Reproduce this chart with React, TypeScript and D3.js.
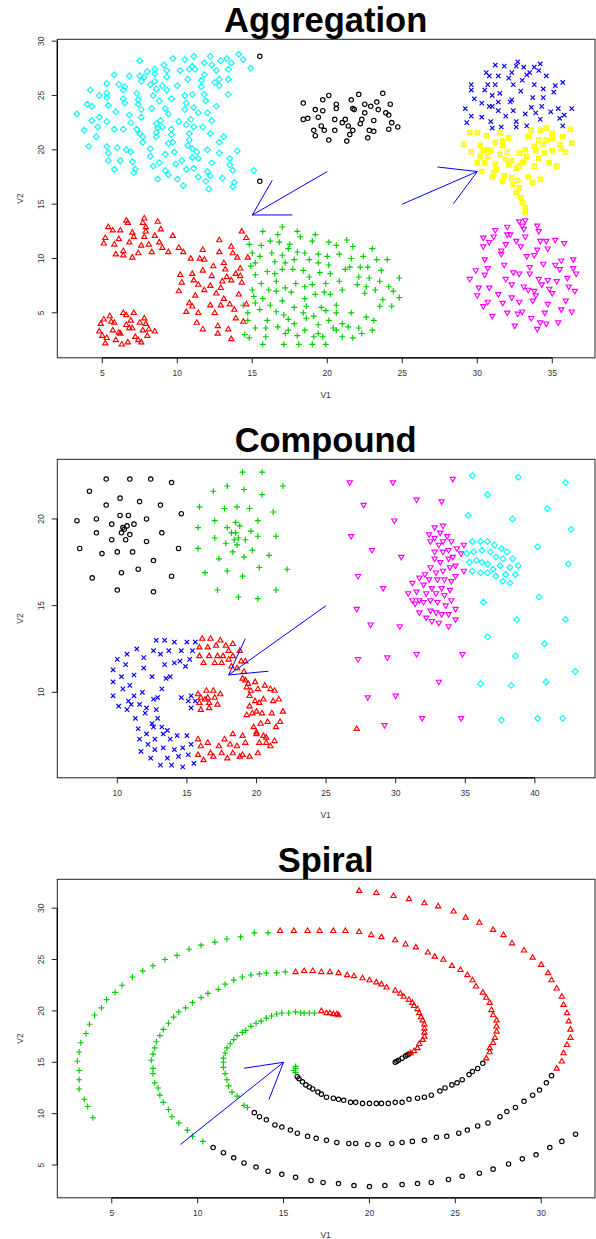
import React from 'react';
import * as d3 from 'd3';

type Pt = [number, number];

// ---------- Aggregation ----------
const aggCyan: Pt[] = [
  [3.3,23.3],[3.8,21.8],[4.0,24.2],[4.2,25.5],[4.3,24.0],[4.3,22.7],[4.1,20.3],[4.6,21.2],[4.7,22.1],[4.8,25.0],
  [4.8,23.0],[5.3,26.1],[5.3,25.2],[5.3,24.8],[5.4,24.1],[5.3,22.6],[5.3,20.3],[5.4,19.7],[5.4,19.0],[5.8,26.9],
  [5.9,23.5],[5.8,21.9],[5.8,18.2],[6.0,20.2],[6.1,26.0],[6.2,19.0],[6.4,25.5],[6.4,21.9],[6.4,24.7],[6.5,25.8],
  [6.5,24.3],[6.6,20.0],[6.8,26.8],[6.8,23.2],[6.9,22.5],[6.9,19.8],[7.0,18.9],[7.1,17.9],[7.2,18.2],[7.3,25.2],
  [7.4,24.6],[7.4,24.2],[7.3,21.9],[7.5,21.5],[7.5,26.8],[7.5,28.2],[7.6,26.3],[7.6,23.7],[7.6,23.0],[7.7,21.2],
  [7.7,20.7],[7.8,26.7],[8.0,27.2],[8.2,26.0],[8.2,20.1],[8.2,19.4],[8.3,23.8],[8.4,18.5],[8.4,25.0],[8.5,27.0],
  [8.5,27.4],[8.5,26.3],[8.6,25.6],[8.6,22.4],[8.6,21.6],[8.6,21.2],[8.7,22.0],[8.7,17.3],[8.8,18.8],[8.8,24.5],
  [8.9,22.7],[9.0,22.1],[9.0,25.9],[9.1,27.8],[9.2,23.8],[9.2,19.6],[9.2,18.1],[9.3,27.3],[9.3,26.7],[9.4,17.7],
  [9.3,25.5],[9.4,20.6],[9.4,23.3],[9.6,21.4],[9.6,21.9],[9.6,24.7],[9.7,28.4],[9.7,20.7],[9.8,19.8],[9.9,18.7],
  [10.0,25.9],[10.0,17.3],[10.1,22.6],[10.2,27.3],[10.3,19.0],[10.4,16.7],[10.5,28.3],[10.5,25.0],[10.6,24.3],[10.5,23.7],
  [10.6,22.3],[10.6,18.2],[10.7,20.4],[10.7,26.5],[10.8,27.4],[10.8,20.9],[10.8,21.5],[10.9,22.8],[11.0,19.3],[11.0,20.1],
  [11.0,27.7],[11.0,25.1],[11.1,23.9],[11.1,28.6],[11.1,22.1],[11.1,18.3],[11.2,27.4],[11.3,19.8],[11.4,23.4],[11.4,19.2],
  [11.4,17.5],[11.6,25.8],[11.6,26.4],[11.7,22.1],[11.8,25.1],[11.8,28.0],[11.8,26.9],[11.9,24.5],[11.9,17.1],[12.0,20.0],
  [12.0,23.4],[12.0,18.0],[12.1,16.4],[12.2,28.6],[12.2,17.6],[12.3,27.8],[12.2,21.5],[12.3,22.7],[12.3,18.8],[12.5,26.2],
  [12.6,24.0],[12.6,27.3],[12.8,19.7],[12.8,20.7],[12.8,26.5],[12.8,25.9],[12.9,28.2],[13.0,17.4],[13.1,21.2],[13.3,28.4],
  [13.4,25.1],[13.4,27.4],[13.4,26.5],[13.5,18.6],[13.5,19.2],[13.6,28.0],[13.7,16.6],[13.7,18.1],[13.8,17.0],[14.0,19.9],
  [14.1,28.8],[14.4,28.3],[14.9,27.5],[15.1,18.1],
];

const aggBlack: Pt[] = [
  [15.5,28.6],[15.5,17.1],[18.4,24.3],[18.4,22.8],[18.7,22.9],[19.2,23.7],[19.1,21.8],[19.2,21.3],[19.4,23.0],[19.6,22.2],
  [19.7,24.6],[19.7,23.6],[19.8,21.8],[20.1,25.0],[20.1,20.9],[20.5,22.8],[20.5,21.8],[20.6,24.2],[20.6,23.8],[21.0,22.5],
  [21.2,22.8],[21.3,20.8],[21.4,22.2],[21.5,21.4],[21.6,24.6],[21.7,21.8],[21.7,23.8],[21.8,23.7],[22.2,22.4],[22.1,25.1],
  [22.3,22.8],[22.5,24.2],[22.5,23.4],[22.7,21.1],[22.9,24.0],[22.8,21.8],[23.1,21.7],[23.1,22.7],[23.3,24.4],[23.4,23.7],
  [23.7,25.2],[23.9,23.4],[24.1,23.2],[24.2,24.2],[24.1,21.9],[24.3,22.5],[24.7,22.1],
];

const aggBlue: Pt[] = [
  [29.2,23.8],[29.3,22.5],[29.6,25.5],[29.6,26.0],[29.6,23.1],[29.8,24.7],[30.3,23.0],[30.3,24.3],[30.5,25.5],[30.6,27.1],
  [30.8,26.8],[30.7,26.0],[30.8,24.0],[30.9,22.6],[31.0,22.0],[31.0,25.0],[31.0,24.0],[31.2,27.8],[31.2,26.0],[31.4,26.8],
  [31.4,24.4],[31.4,23.6],[31.5,25.2],[31.6,22.1],[31.8,27.7],[31.9,23.1],[32.1,26.6],[32.2,24.4],[32.3,24.6],[32.3,27.1],
  [32.4,26.0],[32.4,23.6],[32.6,22.6],[32.6,22.1],[32.7,28.1],[32.9,25.4],[33.0,26.4],[33.1,27.6],[33.2,23.3],[33.3,22.2],
  [33.5,27.1],[33.6,23.9],[33.7,24.8],[33.8,26.0],[33.9,23.4],[34.1,27.3],[34.2,22.8],[34.2,27.9],[34.3,24.0],[34.4,24.8],
  [34.4,25.6],[34.6,26.8],[34.9,23.5],[35.1,25.3],[35.2,25.9],[35.4,23.8],[35.5,22.9],[35.7,26.2],[35.7,22.2],[35.8,23.2],
  [36.3,23.8],[33.8,27.6],[33.3,26.9],[32.6,27.7],
];

const aggYellow: Pt[] = [
  [29.1,20.5],[29.5,21.6],[29.6,19.8],[30.0,21.6],[30.0,18.8],[30.2,19.4],[30.2,20.4],[30.3,18.0],[30.4,19.9],[30.5,18.8],
  [30.6,21.3],[30.7,20.0],[30.9,19.9],[31.0,17.5],[31.1,17.9],[31.2,18.7],[31.2,20.7],[31.5,21.6],[31.5,19.6],[31.7,20.4],
  [31.7,20.8],[31.8,17.6],[31.7,17.1],[31.9,19.1],[32.0,19.8],[32.1,21.1],[32.1,18.6],[32.3,17.4],[32.3,19.0],[32.4,16.8],
  [32.6,18.3],[32.7,17.2],[32.8,19.7],[32.8,18.5],[33.0,18.8],[33.1,18.9],[33.2,20.0],[33.4,17.5],[33.4,21.2],[33.6,21.8],
  [33.7,17.0],[33.8,20.3],[33.8,18.5],[33.9,19.9],[34.1,20.9],[34.1,19.2],[34.2,17.3],[34.2,21.8],[34.4,20.5],[34.5,19.7],
  [34.6,22.0],[34.8,18.8],[35.0,21.5],[35.0,21.0],[35.0,19.9],[35.3,18.5],[35.5,20.5],[35.6,20.1],[35.7,21.2],[35.9,19.8],
  [36.2,21.9],[36.3,20.6],[32.6,16.1],[32.8,16.5],[32.9,15.6],[33.0,15.2],[33.2,14.7],[33.2,14.2],[31.3,18.2],[33.3,19.4],
  [34.6,20.9],[30.7,19.4],
];

const aggMagenta: Pt[] = [
  [29.5,8.1],[29.9,8.9],[30.0,6.6],[30.1,7.3],[30.4,11.9],[30.4,5.6],[30.4,11.1],[30.5,9.9],[30.5,8.5],[30.7,9.1],
  [30.7,6.0],[30.8,7.3],[30.8,11.5],[31.0,4.7],[31.1,12.0],[31.2,12.6],[31.4,6.7],[31.6,10.4],[31.6,10.7],[31.7,5.9],
  [31.8,9.4],[31.9,11.3],[31.9,8.1],[32.0,12.9],[32.0,5.0],[32.0,12.2],[32.2,12.2],[32.3,7.6],[32.3,6.4],[32.4,8.7],
  [32.5,3.8],[32.6,11.6],[32.7,4.9],[32.8,6.0],[32.8,8.6],[32.9,11.1],[33.0,5.1],[33.0,13.0],[33.1,7.4],[33.1,12.7],
  [33.2,12.0],[33.3,10.2],[33.4,7.1],[33.5,9.2],[33.5,8.6],[33.6,4.5],[33.7,6.1],[33.8,10.3],[33.8,7.0],[33.9,6.6],
  [34.0,10.8],[34.0,3.5],[34.0,13.0],[34.1,12.5],[34.1,8.1],[34.2,11.6],[34.2,4.1],[34.3,7.6],[34.4,9.5],[34.5,5.0],
  [34.6,4.0],[34.6,11.6],[34.7,10.9],[34.7,8.0],[34.7,5.8],[34.8,7.2],[35.0,6.8],[35.2,11.7],[35.2,9.4],[35.3,7.9],
  [35.4,4.1],[35.5,9.0],[35.6,5.3],[35.6,9.8],[35.8,11.4],[35.9,6.1],[36.0,8.2],[36.1,7.4],[36.3,5.1],[36.4,9.9],
  [36.4,9.1],[36.5,7.0],[36.6,8.6],[32.8,13.4],[33.2,13.5],
];

const aggRed: Pt[] = [
  // upper left group
  [5.1,11.4],[5.2,11.9],[5.4,12.9],[5.7,12.6],[5.8,11.3],[5.9,10.4],[6.1,11.8],[6.2,12.6],[6.4,10.7],[6.4,10.3],
  [6.6,13.5],[6.7,13.3],[6.8,11.5],[7.0,12.4],[7.1,12.0],[7.0,10.1],[7.4,10.5],[7.6,11.2],[7.8,13.7],[7.7,13.3],
  [7.9,12.5],[7.8,12.0],[7.9,12.9],[8.1,11.3],[8.3,10.6],[8.5,12.1],[8.7,13.4],[8.8,11.5],[8.9,12.7],[9.0,11.0],
  [9.4,10.6],[9.7,12.1],
  // lower left group
  [4.8,3.3],[4.9,4.0],[5.0,2.9],[5.1,4.4],[5.2,2.2],[5.3,2.7],[5.5,4.7],[5.6,4.2],[5.7,3.4],[5.8,4.1],
  [5.9,2.5],[6.1,3.2],[6.2,3.1],[6.3,2.1],[6.4,5.0],[6.6,4.8],[6.6,3.9],[6.7,2.3],[6.8,3.6],[6.9,4.3],
  [7.0,3.6],[7.1,5.0],[7.2,2.8],[7.4,2.5],[7.5,4.1],[7.6,2.3],[7.7,3.4],[7.8,4.5],[7.9,4.0],[8.0,2.9],
  [8.1,3.5],[8.5,3.3],
  // middle group
  [10.1,7.0],[10.2,8.5],[10.3,7.8],[10.6,5.1],[10.8,5.9],[11.0,5.6],[11.0,8.6],[11.1,8.0],[11.2,6.6],[11.3,4.1],
  [11.4,5.0],[11.4,7.6],[11.5,10.0],[11.7,10.8],[11.7,3.5],[11.7,8.9],[11.8,9.9],[11.8,7.1],[12.2,7.5],[12.2,5.7],
  [12.3,8.4],[12.4,9.3],[12.5,5.0],[12.6,6.8],[12.7,3.8],[12.7,3.1],[12.8,10.6],[12.8,11.7],[12.9,5.7],[12.9,7.3],
  [13.0,7.9],[13.1,6.3],[13.1,9.6],[13.2,9.0],[13.3,8.3],[13.4,3.5],[13.5,5.8],[13.6,11.1],[13.6,2.6],[13.6,8.0],
  [13.7,10.5],[13.8,5.3],[13.9,8.6],[14.0,10.1],[14.1,6.7],[14.2,9.1],[14.2,8.4],[14.3,7.8],[14.3,12.5],[14.4,4.2],
  [14.6,5.8],[14.6,11.9],[14.7,10.1],[13.9,4.5],[10.1,11.0],[10.4,10.6],[10.9,10.0],
];

const aggGreen: Pt[] = [
  [17.0,12.9],[15.7,12.5],[16.7,12.2],[18.0,12.5],[19.2,12.2],[18.2,12.0],[14.8,11.3],[16.2,11.6],[16.8,11.5],[17.5,11.3],
  [19.0,11.6],[20.1,11.5],[20.6,11.2],[15.6,11.2],[15.0,10.5],[15.5,10.2],[16.3,10.5],[17.0,10.3],[17.4,10.9],[18.0,10.6],
  [18.5,10.5],[19.4,10.4],[20.0,10.2],[20.8,10.4],[15.2,9.6],[16.5,9.7],[17.2,9.6],[17.8,9.9],[18.8,9.9],[19.4,9.6],
  [20.1,9.4],[14.9,9.3],[16.0,8.8],[17.0,9.0],[17.7,9.0],[18.4,8.9],[19.5,8.7],[20.2,8.6],[15.2,8.5],[16.5,8.6],
  [18.8,8.3],[21.2,9.0],[15.6,7.7],[16.6,7.9],[17.9,7.7],[19.0,7.6],[19.9,7.7],[20.8,7.9],[15.0,7.1],[16.1,7.1],
  [17.2,7.3],[18.5,7.4],[15.1,6.5],[16.6,7.0],[17.6,6.9],[19.2,6.7],[20.2,6.7],[15.7,6.3],[17.0,6.1],[18.5,6.3],
  [19.8,6.9],[21.0,7.1],[15.2,5.9],[16.2,5.7],[17.8,5.5],[18.6,5.6],[19.6,5.5],[20.6,5.7],[14.4,5.7],[14.7,5.0],
  [15.5,5.3],[16.6,5.1],[17.1,4.8],[18.4,5.0],[19.1,4.7],[19.9,5.2],[20.6,5.0],[14.7,4.3],[16.0,4.3],[17.4,4.4],
  [17.8,4.0],[18.6,4.5],[20.1,4.3],[21.0,4.0],[15.2,3.6],[15.9,3.6],[16.7,3.7],[17.4,3.4],[18.5,3.4],[19.4,3.9],
  [20.4,3.6],[14.5,3.0],[15.9,2.8],[17.2,3.1],[18.0,2.9],[19.1,2.8],[19.7,2.8],[20.6,3.4],[14.8,2.7],[15.7,2.1],
  [17.1,2.1],[18.1,2.1],[19.0,2.1],[19.9,2.1],[21.0,2.8],[19.4,3.1],
  [21.3,11.7],[21.5,9.2],[21.6,10.0],[21.7,11.1],[22.0,7.6],[22.1,8.3],[22.2,9.2],[22.4,10.2],[22.5,6.8],[22.6,7.4],
  [22.7,9.2],[22.8,8.2],[23.0,10.9],[23.2,7.1],[23.3,9.9],[23.5,7.9],[23.6,8.9],[23.7,6.2],[24.0,9.9],[24.1,7.4],
  [24.3,5.6],[24.4,7.0],[24.8,8.2],[24.8,6.4],[21.4,3.7],[21.6,5.0],[21.7,2.7],[22.1,3.6],[22.3,3.1],[22.6,4.6],
  [23.0,3.4],[23.1,4.3],[23.5,5.6],
];

// ---------- Compound ----------
const cmpBlack: Pt[] = [
  [7.1,19.9],[7.3,18.3],[8.0,21.6],[8.2,16.6],[8.5,20.0],[8.5,19.2],[8.9,18.0],[9.2,22.3],[9.2,20.8],[9.6,18.8],
  [9.6,19.7],[10.0,15.9],[10.0,18.1],[10.2,21.2],[10.2,20.2],[10.3,19.2],[10.3,16.9],[10.4,19.5],[10.5,19.4],[10.6,18.8],
  [10.7,19.6],[10.8,20.2],[10.9,22.3],[10.9,19.1],[11.1,18.1],[11.2,19.7],[11.5,17.1],[11.6,21.0],[12.1,18.7],[12.1,20.0],
  [12.4,22.3],[12.6,17.6],[12.6,15.8],[13.1,20.8],[13.2,19.2],[13.9,16.7],[13.9,22.1],[14.4,18.3],[14.6,20.3],
];

const cmpGreen: Pt[] = [
  [15.8,19.5],[15.8,18.3],[15.9,20.7],[16.3,16.9],[16.9,21.6],[17.0,19.9],[17.0,18.9],[17.2,15.9],[17.3,17.7],[17.8,18.6],
  [17.9,21.9],[17.7,20.6],[17.9,19.5],[17.9,17.0],[18.3,18.1],[18.5,19.8],[18.5,19.2],[18.6,20.7],[18.6,18.5],[18.7,15.5],
  [18.7,18.9],[19.0,22.7],[19.0,16.7],[19.1,17.8],[19.1,21.7],[19.2,18.8],[19.5,20.6],[19.6,19.3],[19.7,18.2],[20.1,19.9],
  [20.1,19.0],[20.1,15.4],[20.2,17.2],[20.4,21.4],[20.4,22.7],[20.9,17.9],[21.2,20.4],[21.4,15.9],[21.4,19.0],[21.9,21.9],
  [22.2,17.1],[18.8,19.6],[18.4,18.8],[18.2,19.2],
];

const cmpBlue: Pt[] = [
  [9.7,11.3],[9.7,10.6],[9.7,9.8],[10.0,11.9],[10.1,9.2],[10.3,10.9],[10.4,10.2],[10.6,11.6],[10.7,12.2],[10.7,9.0],
  [10.8,9.5],[10.9,10.4],[11.0,9.3],[11.2,9.8],[11.2,11.0],[11.3,8.5],[11.4,12.5],[11.5,7.9],[11.6,9.3],[11.6,7.3],
  [11.7,6.6],[11.8,10.0],[11.9,12.0],[11.9,11.4],[12.0,8.8],[12.1,7.6],[12.1,9.1],[12.2,7.0],[12.4,6.2],[12.5,10.9],
  [12.5,8.2],[12.6,8.0],[12.6,12.4],[12.6,9.6],[12.7,7.3],[12.7,6.7],[12.8,13.0],[12.8,9.0],[12.9,8.5],[12.9,9.7],
  [13.1,5.8],[13.1,12.2],[13.2,8.0],[13.2,10.2],[13.3,7.6],[13.3,6.8],[13.4,13.0],[13.4,11.6],[13.5,10.8],[13.6,6.2],
  [13.6,7.8],[13.7,12.4],[13.8,7.3],[13.8,10.9],[13.9,5.8],[14.1,6.7],[14.1,11.7],[14.1,12.9],[14.3,7.5],[14.4,6.3],
  [14.5,11.8],[14.6,12.4],[14.7,5.7],[14.7,6.8],[14.9,11.5],[15.0,7.5],[15.0,12.9],[15.1,6.4],[15.2,11.9],[15.3,9.8],
  [15.3,9.1],[15.3,7.0],[15.4,12.4],[15.5,5.9],[15.6,12.9],[15.6,9.5],[15.1,9.5],[14.6,9.7],
];

const cmpRed: Pt[] = [
  [15.9,12.6],[15.9,12.1],[16.1,13.1],[16.2,11.7],[16.5,12.6],[16.6,12.1],[16.7,13.1],[17.0,11.7],[17.1,12.7],[17.2,12.1],
  [17.4,13.0],[17.5,11.7],[17.6,12.1],[17.8,12.7],[18.0,11.9],[18.0,12.4],[18.2,11.5],[18.3,12.8],[18.3,12.1],[18.6,11.4],
  [18.8,12.4],[18.9,11.8],[19.1,11.2],[19.2,11.8],
  [15.8,9.9],[15.9,9.4],[16.0,9.0],[16.0,9.7],[16.3,9.6],[16.4,10.1],[16.5,9.7],[16.6,9.4],[16.6,9.1],[16.9,10.1],
  [17.0,9.7],[17.2,9.3],[17.4,9.9],
  [19.0,10.8],[19.2,10.7],[19.4,10.5],[19.3,10.3],[19.5,9.8],[19.3,8.7],[19.5,9.2],[19.6,10.1],[19.7,8.8],[19.9,10.6],
  [19.9,9.5],[20.0,8.9],[20.0,7.7],[20.1,10.2],[20.2,9.4],[20.3,8.2],[20.4,8.8],[20.5,9.6],[20.6,10.4],[20.7,7.4],
  [20.8,8.3],[21.0,10.2],[21.1,8.8],[21.2,9.5],[21.3,10.1],[21.3,7.2],[21.4,8.0],[21.6,9.6],[21.7,8.3],[21.9,8.9],
  [15.8,7.3],[15.8,6.4],[16.0,6.9],[16.2,6.1],[16.5,7.1],[16.7,6.5],[16.9,6.3],[17.3,6.9],[17.5,6.5],[17.7,7.3],
  [17.9,6.2],[18.1,7.0],[18.3,7.6],[18.6,6.9],[18.8,6.3],[19.0,7.5],[19.0,6.4],[19.2,7.1],[19.5,6.3],[19.8,8.0],
  [20.0,7.6],[20.1,6.5],[20.2,7.1],[20.5,7.5],[20.7,7.1],[21.0,6.9],[18.3,6.5],[27.2,7.9],
];

const cmpMagenta: Pt[] = [
  [26.7,22.1],[29.8,22.1],[34.1,22.3],[27.7,20.8],[31.5,21.1],[33.3,21.0],[29.9,19.9],[26.8,19.0],[28.3,18.2],[30.4,17.8],
  [27.3,16.7],[29.1,16.0],[27.2,14.8],[28.2,13.9],[30.3,13.8],[27.3,11.9],[29.4,12.0],[31.5,12.2],[34.8,12.2],[33.1,10.6],
  [28.0,9.7],[30.0,9.8],[31.9,8.5],[34.7,8.5],[29.2,8.1],
  [32.8,19.5],[33.4,19.6],[32.4,19.1],[33.2,19.2],[33.7,19.0],[32.8,18.9],[32.5,18.7],[33.4,18.7],[33.1,18.5],[34.0,18.7],
  [34.9,18.5],[32.8,18.1],[33.4,18.1],[33.8,18.2],[34.4,18.3],[34.1,17.8],[34.7,18.0],[33.8,17.7],[32.8,17.7],[33.2,17.5],
  [34.3,17.3],[33.9,17.2],[34.9,17.0],[32.5,17.2],[33.4,17.0],[32.1,16.8],[31.7,16.6],[32.9,16.9],[32.4,16.5],[33.5,16.5],
  [34.3,16.7],[31.2,16.3],[32.0,16.2],[33.0,16.5],[34.0,16.4],[31.5,15.8],[32.6,16.0],[33.3,16.0],[33.9,15.9],[30.9,15.7],
  [32.2,15.7],[32.9,15.7],[33.5,15.6],[31.2,15.3],[31.7,15.3],[32.5,15.3],[33.0,15.2],[34.0,15.3],[31.4,15.1],[32.0,15.2],
  [33.6,15.0],[31.7,14.6],[32.5,14.7],[32.9,14.6],[34.3,14.8],[33.3,14.5],[33.8,14.5],[32.2,14.3],[32.6,14.1],[33.1,14.0],
  [33.8,13.8],[34.3,14.2],
];

const cmpCyan: Pt[] = [
  [35.5,22.5],[38.8,22.4],[42.2,22.1],[36.6,21.4],[40.9,20.6],[35.2,20.2],[38.4,20.0],[42.6,19.4],[40.2,18.4],[42.4,17.4],
  [36.3,15.2],[40.3,15.5],[38.7,14.2],[42.2,14.2],[36.6,13.2],[40.7,12.8],[38.6,12.1],[42.9,11.2],[36.1,10.5],[38.3,10.4],
  [40.8,10.6],[37.6,8.4],[40.2,8.5],[42.0,8.5],
  [35.5,18.7],[36.1,18.7],[36.6,18.7],[37.1,18.5],[37.6,18.3],[38.0,18.1],[35.1,18.0],[35.6,18.1],[36.2,18.2],[36.8,18.1],
  [37.2,17.8],[37.7,17.7],[38.4,17.7],[38.8,17.3],[35.3,17.5],[35.8,17.6],[36.2,17.5],[36.6,17.4],[37.0,17.1],[37.5,17.3],
  [38.2,17.2],[35.5,17.0],[36.1,16.9],[36.6,16.9],[37.2,16.7],[37.9,16.8],[38.6,16.8],[37.7,16.4],[38.2,16.3],
];

// ---------- Spiral ----------
const spiGreen: Pt[] = [
  [3.9,9.6],[3.6,10.7],[3.4,11.4],[3.1,12.4],[3.1,13.3],[3.1,14.2],[3.0,15.1],[3.1,16.0],[3.2,16.9],[3.5,17.8],
  [3.7,18.7],[4.0,19.6],[4.4,20.3],[4.7,21.1],[5.2,21.8],[5.6,22.5],[6.2,23.3],[6.8,23.9],[7.4,24.4],[8.1,25.0],
  [8.8,25.4],[9.5,26.0],[10.2,26.4],[11.0,26.7],[11.7,27.0],[12.5,27.2],[13.3,27.6],[14.1,27.6],
  [15.7,14.6],[15.6,14.2],[15.7,14.0],[15.7,14.4],
  [15.1,23.8],[14.6,23.7],[14.0,23.7],[13.6,23.6],[13.1,23.5],[12.6,23.3],[12.1,23.0],[11.6,22.6],[11.2,22.1],[10.6,21.7],
  [10.2,21.3],[9.7,20.8],[9.3,20.3],[8.9,19.9],[8.6,19.4],[8.3,18.8],[8.0,18.2],[7.8,17.6],[7.6,17.0],[7.5,16.4],
  [7.4,15.8],[7.3,15.2],[7.4,14.4],[7.4,13.9],[7.5,13.0],[7.7,12.5],[7.8,11.8],[8.0,11.1],[8.3,10.4],[8.5,9.7],
  [8.9,9.1],[9.4,8.4],[9.7,7.8],[10.3,7.3],
  [12.9,10.6],[12.7,10.8],[12.3,11.7],[12.0,12.1],[11.8,12.7],[11.7,13.3],[11.6,13.9],[11.5,14.5],[11.5,15.0],[11.5,15.4],
  [11.6,15.9],[11.7,16.4],[11.9,16.8],[12.1,17.2],[12.3,17.6],[12.6,17.9],[12.8,18.1],[13.1,18.5],[13.4,18.8],[13.7,19.0],
  [14.0,19.3],[14.3,19.5],[14.6,19.7],[14.9,19.8],[15.3,19.8],[15.7,19.9],[16.0,19.8],[16.2,19.8],[16.5,19.8],[16.8,19.8],
];

const spiRed: Pt[] = [
  [14.8,27.8],[15.6,27.8],[16.4,27.8],[17.1,27.8],[17.9,27.8],[18.6,27.8],[19.4,27.7],[20.1,27.4],[20.7,27.2],[21.5,26.9],
  [22.1,26.5],[22.7,26.2],[23.4,25.7],[23.8,25.3],[24.3,25.0],[24.8,24.4],[25.3,24.0],[25.7,23.5],[26.0,23.0],[26.2,22.4],
  [26.6,21.8],[26.8,21.3],[27.0,20.8],[27.1,20.1],[27.2,19.6],[27.4,19.1],[27.4,18.5],[27.4,18.0],[27.3,17.4],[27.2,16.9],
  [27.0,16.4],[27.0,16.0],[26.8,15.4],
  [22.4,15.9],[22.6,16.1],[22.8,16.4],[22.9,16.8],[23.1,17.2],[23.2,17.5],[23.2,17.9],[23.2,18.3],[23.2,18.7],[23.1,19.1],
  [23.0,19.4],[22.9,19.8],[22.8,20.2],[22.6,20.5],[22.5,20.8],[22.3,21.1],[22.0,21.4],[21.8,21.7],[21.5,22.0],[21.0,22.3],
  [20.7,22.6],[20.4,22.8],[20.0,23.0],[19.6,23.2],[19.1,23.4],[18.7,23.5],[18.2,23.7],[17.7,23.8],[17.2,23.8],[16.7,23.9],
  [16.2,23.9],[15.7,23.8],
  [19.4,31.7],[20.4,31.5],[21.4,31.2],[22.3,30.9],[23.2,30.5],[24.0,30.2],[24.9,29.7],[25.6,29.1],[26.4,28.6],[27.2,27.9],
  [27.8,27.4],[28.3,26.6],[29.0,25.9],[29.5,25.2],[30.0,24.5],[30.4,23.7],[30.6,23.0],[30.9,22.2],[31.2,21.4],[31.3,20.6],
  [31.5,19.8],[31.6,19.0],[31.7,18.2],[31.7,17.4],[31.5,16.7],[31.3,15.9],[31.2,15.1],[30.9,14.4],
  [17.2,20.0],[17.5,19.8],[17.7,19.8],[17.9,19.7],[18.1,19.7],[18.2,19.6],
];

const spiBlack: Pt[] = [
  [26.6,14.9],[26.3,14.4],[26.0,14.1],[25.8,13.8],[25.4,13.3],[25.1,13.0],[24.8,12.8],[24.4,12.5],[24.1,12.2],[23.6,11.8],
  [23.2,11.6],[22.8,11.5],[22.3,11.4],[21.9,11.1],[21.5,11.1],[21.1,11.0],[20.7,11.0],[20.4,11.0],[20.0,11.0],[19.6,11.0],
  [19.2,11.1],[18.9,11.1],[18.5,11.3],[18.2,11.4],[17.9,11.5],[17.5,11.6],[17.2,11.9],[17.0,12.1],[16.7,12.4],[16.5,12.6],
  [16.3,12.8],[16.1,13.1],[15.9,13.4],[15.8,13.6],
  [21.5,15.0],[21.6,15.1],[21.7,15.2],[21.9,15.4],[22.1,15.6],[22.2,15.7],[22.3,15.8],
  [10.9,6.7],[11.5,6.2],[12.1,5.7],[12.7,5.2],[13.4,4.8],[14.1,4.4],[14.9,4.1],[15.7,3.8],[16.6,3.5],[17.3,3.3],
  [18.2,3.2],[19.1,3.0],[20.0,2.9],[20.9,3.0],[21.9,3.1],[22.8,3.2],[23.6,3.3],[24.6,3.6],[25.4,3.9],[26.4,4.2],
  [27.2,4.6],[28.1,5.1],[28.9,5.6],[29.7,6.0],[30.5,6.7],[31.2,7.3],[32.0,8.0],
  [30.6,13.7],[30.3,13.0],[29.9,12.3],[29.5,11.8],[29.0,11.2],[28.5,10.6],[28.0,10.2],[27.6,9.7],[26.9,9.1],[26.3,8.8],
  [25.7,8.4],[25.2,8.1],[24.5,7.8],[23.9,7.7],[23.2,7.4],[22.5,7.3],[21.9,7.2],[21.3,7.1],[20.5,7.0],[19.9,7.0],
  [19.2,7.1],[18.8,7.1],[18.1,7.2],[17.5,7.4],[16.9,7.6],[16.4,7.8],[15.8,8.1],[15.4,8.4],[14.9,8.7],[14.5,8.9],
  [14.0,9.4],[13.6,9.7],[13.3,10.1],
];

// axis limits and ticks
const aggXLim: Pt = [2.0, 37.85];
const aggYLim: Pt = [0.86, 30.17];
const aggXTicks = [5, 10, 15, 20, 25, 30, 35];
const aggYTicks = [5, 10, 15, 20, 25, 30];
const aggArrows = [[20, 18, 15, 14], [25, 15, 30, 18]];

const cmpXLim: Pt = [5.69, 44.32];
const cmpYLim: Pt = [5.07, 23.44];
const cmpXTicks = [10, 15, 20, 25, 30, 35, 40];
const cmpYTicks = [10, 15, 20];
const cmpArrows = [[25, 15, 18, 11]];

const spiXLim: Pt = [1.83, 33.13];
const spiYLim: Pt = [1.81, 32.81];
const spiXTicks = [5, 10, 15, 20, 25, 30];
const spiYTicks = [5, 10, 15, 20, 25, 30];
const spiArrows = [[9, 7, 15, 15]];

const BLACK = '#000000', RED = '#FF0000', GREEN = '#00CD00', BLUE = '#0000FF',
  CYAN = '#00FFFF', MAGENTA = '#FF00FF', YELLOW = '#FFFF00';

const FONT = '"Liberation Sans", Arial, Helvetica, sans-serif';
const BOX_L = 57.3, BOX_R = 595, BOX_H = 318.5;

interface Series { pts: Pt[]; color: string; shape: string }
interface PanelDef {
  title: string; top: number; xLim: Pt; yLim: Pt;
  xTicks: number[]; yTicks: number[]; series: Series[]; arrows: number[][];
}

const panels: PanelDef[] = [
  {
    title: 'Aggregation', top: 39.3, xLim: aggXLim, yLim: aggYLim, xTicks: aggXTicks, yTicks: aggYTicks,
    arrows: aggArrows,
    series: [
      { pts: aggCyan, color: CYAN, shape: 'diamond' },
      { pts: aggBlack, color: BLACK, shape: 'circle' },
      { pts: aggRed, color: RED, shape: 'triUp' },
      { pts: aggGreen, color: GREEN, shape: 'plus' },
      { pts: aggBlue, color: BLUE, shape: 'cross' },
      { pts: aggYellow, color: YELLOW, shape: 'squareX' },
      { pts: aggMagenta, color: MAGENTA, shape: 'triDown' },
    ],
  },
  {
    title: 'Compound', top: 459.3, xLim: cmpXLim, yLim: cmpYLim, xTicks: cmpXTicks, yTicks: cmpYTicks,
    arrows: cmpArrows,
    series: [
      { pts: cmpBlack, color: BLACK, shape: 'circle' },
      { pts: cmpGreen, color: GREEN, shape: 'plus' },
      { pts: cmpBlue, color: BLUE, shape: 'cross' },
      { pts: cmpRed, color: RED, shape: 'triUp' },
      { pts: cmpMagenta, color: MAGENTA, shape: 'triDown' },
      { pts: cmpCyan, color: CYAN, shape: 'diamond' },
    ],
  },
  {
    title: 'Spiral', top: 879.3, xLim: spiXLim, yLim: spiYLim, xTicks: spiXTicks, yTicks: spiYTicks,
    arrows: spiArrows,
    series: [
      { pts: spiBlack, color: BLACK, shape: 'circle' },
      { pts: spiRed, color: RED, shape: 'triUp' },
      { pts: spiGreen, color: GREEN, shape: 'plus' },
    ],
  },
];

function markerPath(shape: string, x: number, y: number): string {
  switch (shape) {
    case 'triUp':
      return `M${x},${y - 2.8}L${x + 2.6},${y + 1.7}L${x - 2.6},${y + 1.7}Z`;
    case 'triDown':
      return `M${x},${y + 2.8}L${x + 2.6},${y - 1.7}L${x - 2.6},${y - 1.7}Z`;
    case 'plus':
      return `M${x - 3},${y}H${x + 3}M${x},${y - 3}V${y + 3}`;
    case 'cross':
      return `M${x - 2.2},${y - 2.2}L${x + 2.2},${y + 2.2}M${x - 2.2},${y + 2.2}L${x + 2.2},${y - 2.2}`;
    case 'diamond':
      return `M${x},${y - 2.9}L${x + 2.9},${y}L${x},${y + 2.9}L${x - 2.9},${y}Z`;
    case 'squareX':
      return `M${x - 2.2},${y - 2.2}H${x + 2.2}V${y + 2.2}H${x - 2.2}ZM${x - 2.2},${y - 2.2}L${x + 2.2},${y + 2.2}M${x - 2.2},${y + 2.2}L${x + 2.2},${y - 2.2}`;
    default:
      return '';
  }
}

function Panel({ p }: { p: PanelDef }) {
  const bottom = p.top + BOX_H;
  const x = d3.scaleLinear().domain(p.xLim).range([BOX_L, BOX_R]);
  const y = d3.scaleLinear().domain(p.yLim).range([bottom, p.top]);
  const cx = (BOX_L + BOX_R) / 2;
  const cy = (p.top + bottom) / 2;
  const headLen = 40;

  return (
    <g>
      <text x={cx - 0.5} y={p.top - 7.6} textAnchor="middle" fontFamily={FONT} fontWeight="bold"
        fontSize={34.5} fill="#000">{p.title}</text>

      {p.series.map((s, si) => (
        <g key={si} stroke={s.color} strokeWidth={1.15} fill="none">
          {s.pts.map((d, i) =>
            s.shape === 'circle'
              ? <circle key={i} cx={x(d[0])} cy={y(d[1])} r={2.2} />
              : <path key={i} d={markerPath(s.shape, x(d[0]), y(d[1]))} />
          )}
        </g>
      ))}

      {p.arrows.map((a, i) => {
        const x0 = x(a[0]), y0 = y(a[1]), x1 = x(a[2]), y1 = y(a[3]);
        const ang = Math.atan2(y0 - y1, x0 - x1);
        const h1 = [x1 + headLen * Math.cos(ang + Math.PI / 6), y1 + headLen * Math.sin(ang + Math.PI / 6)];
        const h2 = [x1 + headLen * Math.cos(ang - Math.PI / 6), y1 + headLen * Math.sin(ang - Math.PI / 6)];
        return (
          <path key={i} d={`M${x0},${y0}L${x1},${y1}M${h1[0]},${h1[1]}L${x1},${y1}L${h2[0]},${h2[1]}`}
            stroke={BLUE} strokeWidth={1} fill="none" />
        );
      })}

      <rect x={BOX_L} y={p.top} width={BOX_R - BOX_L} height={BOX_H} fill="none" stroke="#222" strokeWidth={1} />

      {/* x axis */}
      <line x1={x(p.xTicks[0])} x2={x(p.xTicks[p.xTicks.length - 1])} y1={bottom} y2={bottom} stroke="#000" strokeWidth={1.2} />
      {p.xTicks.map(t => (
        <g key={'x' + t}>
          <line x1={x(t)} x2={x(t)} y1={bottom} y2={bottom + 5.5} stroke="#222" />
          <text x={x(t)} y={bottom + 18.5} textAnchor="middle" fontFamily={FONT} fontSize={8.5} fill="#333">{t}</text>
        </g>
      ))}
      <text x={cx - 0.5} y={bottom + 40} textAnchor="middle" fontFamily={FONT} fontSize={8.5} fill="#333">V1</text>

      {/* y axis */}
      <line x1={BOX_L} x2={BOX_L} y1={y(p.yTicks[0])} y2={y(p.yTicks[p.yTicks.length - 1])} stroke="#000" strokeWidth={1.2} />
      {p.yTicks.map(t => (
        <g key={'y' + t}>
          <line x1={BOX_L - 5.5} x2={BOX_L} y1={y(t)} y2={y(t)} stroke="#222" />
          <text transform={`translate(${BOX_L - 13},${y(t)}) rotate(-90)`} textAnchor="middle"
            fontFamily={FONT} fontSize={8.5} fill="#333">{t}</text>
        </g>
      ))}
      <text transform={`translate(${BOX_L - 34},${cy}) rotate(-90)`} textAnchor="middle"
        fontFamily={FONT} fontSize={8.5} fill="#333">V2</text>
    </g>
  );
}

export default function App() {
  return (
    <svg width={596} height={1239} viewBox="0 0 596 1239"
      style={{ position: 'absolute', left: 0, top: 0, background: '#fff' }}>
      <rect x={0} y={0} width={596} height={1239} fill="#fff" />
      {panels.map((p, i) => <Panel key={i} p={p} />)}
    </svg>
  );
}
